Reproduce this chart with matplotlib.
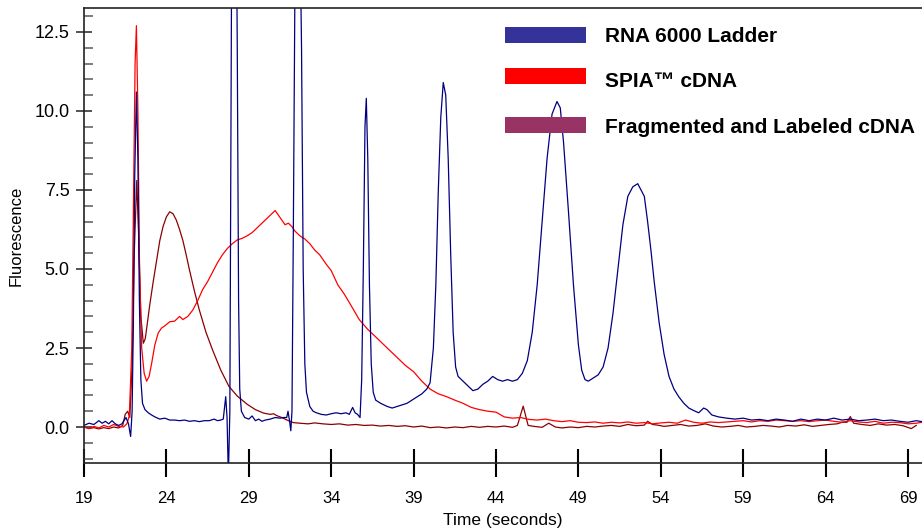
import matplotlib
matplotlib.use('Agg')
import matplotlib.pyplot as plt
from matplotlib.patches import Rectangle
from matplotlib.ticker import MultipleLocator, FormatStrFormatter

plt.rcParams['font.family'] = ['Liberation Sans', 'DejaVu Sans']

ladder_t = [19.0, 19.3, 19.6, 19.9, 20.1, 20.3, 20.5, 20.7, 20.9, 21.1, 21.3, 21.55, 21.7, 21.83, 21.92,
            22.0, 22.08, 22.18, 22.27, 22.36, 22.45, 22.55, 22.7, 22.9, 23.1, 23.3, 23.6, 23.9, 24.2,
            24.5, 24.8, 25.1, 25.4, 25.7, 26.0, 26.3, 26.6, 26.9, 27.1, 27.3, 27.45, 27.6, 27.68, 27.76,
            27.85, 27.92, 28.0, 28.1, 28.2, 28.3, 28.38, 28.45, 28.55, 28.75, 29.0, 29.2, 29.4, 29.6,
            29.8, 30.0, 30.3, 30.6, 30.9, 31.1, 31.3, 31.38, 31.47, 31.55, 31.62, 31.7, 31.8, 31.95,
            32.1, 32.2, 32.3, 32.4, 32.5, 32.7, 32.9, 33.1, 33.4, 33.7, 34.0, 34.3, 34.6, 34.9, 35.1,
            35.3, 35.45, 35.6, 35.75, 35.85, 35.95, 36.05, 36.13, 36.22, 36.32, 36.43, 36.55, 36.7,
            37.0, 37.4, 37.7, 38.0, 38.3, 38.6, 38.9, 39.2, 39.5, 39.8, 40.0, 40.2, 40.35, 40.5, 40.65,
            40.8, 40.95, 41.1, 41.25, 41.4, 41.55, 41.7, 42.0, 42.3, 42.6, 42.9, 43.2, 43.5, 43.8,
            44.1, 44.4, 44.7, 45.0, 45.3, 45.6, 45.9, 46.2, 46.5, 46.8, 47.1, 47.4, 47.7, 47.9, 48.1,
            48.4, 48.7, 49.0, 49.2, 49.4, 49.6, 49.9, 50.2, 50.5, 50.8, 51.1, 51.4, 51.7, 52.0, 52.3,
            52.6, 52.8, 53.0, 53.2, 53.4, 53.6, 53.9, 54.2, 54.5, 54.8, 55.1, 55.4, 55.7, 56.0, 56.3,
            56.6, 56.8, 57.1, 57.5, 58.0, 58.5, 59.0, 59.5, 60.0, 60.5, 61.0, 61.5, 62.0, 62.5, 63.0,
            63.5, 64.0, 64.5, 65.0, 65.5, 66.0, 66.5, 67.0, 67.5, 68.0, 68.5, 69.0, 69.5, 69.85]
ladder_y = [0.05, 0.12, 0.08, 0.2, 0.12, 0.18, 0.1, 0.2, 0.1, 0.05, 0.1, 0.3, 0.1, -0.3, 0.5,
            3.5, 8.0, 10.6, 8.5, 4.0, 1.5, 0.75, 0.55, 0.45, 0.38, 0.32, 0.25, 0.28, 0.22,
            0.22, 0.2, 0.22, 0.18, 0.2, 0.17, 0.2, 0.2, 0.25, 0.2, 0.22, 0.25, 0.96, 0.3, -1.6,
            0.5, 10.0, 20.0, 24.0, 20.0, 12.0, 4.0, 1.2, 0.5, 0.3, 0.25, 0.35, 0.2, 0.25,
            0.18, 0.22, 0.25, 0.3, 0.28, 0.3, 0.3, 0.5, 0.2, -0.12, 0.5, 6.0, 14.0, 20.0,
            16.0, 12.0, 5.0, 2.0, 1.1, 0.65, 0.5, 0.45, 0.4, 0.38, 0.42, 0.45, 0.42, 0.45, 0.4,
            0.62, 0.45, 0.4, 0.3, 1.5, 5.0, 9.5, 10.4, 8.5, 4.5, 2.0, 1.1, 0.85,
            0.75, 0.65, 0.6, 0.65, 0.7, 0.75, 0.85, 0.95, 1.05, 1.2, 1.4, 2.5, 4.5, 7.5, 9.8,
            10.9, 10.5, 8.5, 5.5, 3.0, 1.9, 1.6, 1.45, 1.3, 1.15, 1.2, 1.35, 1.45, 1.6,
            1.5, 1.45, 1.5, 1.45, 1.5, 1.7, 2.1, 3.0, 4.5, 6.5, 8.5, 9.9, 10.3, 10.1, 9.0,
            6.8, 4.5, 2.6, 1.8, 1.5, 1.45, 1.55, 1.65, 1.9, 2.5, 3.6, 5.0, 6.4, 7.3, 7.6,
            7.7, 7.5, 7.3, 6.5, 5.6, 4.6, 3.3, 2.3, 1.6, 1.2, 0.95, 0.75, 0.6, 0.52, 0.45,
            0.6, 0.55, 0.38, 0.32, 0.28, 0.25, 0.28, 0.22, 0.24, 0.2, 0.25, 0.22, 0.18, 0.25, 0.2,
            0.25, 0.22, 0.28, 0.22, 0.25, 0.2, 0.22, 0.25, 0.2, 0.22, 0.18, 0.15, 0.2, 0.17]

spia_t = [19.0, 19.3, 19.6, 19.9, 20.2, 20.5, 20.8, 21.1, 21.4, 21.6, 21.75, 21.9, 22.0, 22.1, 22.18,
          22.27, 22.37, 22.5, 22.65, 22.8, 22.95, 23.1, 23.3, 23.5, 23.7, 23.9, 24.2, 24.5, 24.8,
          25.0, 25.3, 25.6, 25.9, 26.2, 26.5, 26.8, 27.1, 27.4, 27.7, 28.0, 28.3, 28.6, 28.9, 29.2,
          29.5, 29.8, 30.1, 30.4, 30.6, 30.8, 31.0, 31.2, 31.4, 31.6, 31.8, 32.1, 32.4, 32.7, 33.0,
          33.3, 33.7, 34.0, 34.4, 34.8, 35.2, 35.7, 36.2, 36.6, 37.0, 37.5, 38.0, 38.5, 39.0, 39.5,
          40.0, 40.5, 41.0, 41.5, 42.0, 42.5, 43.0, 43.5, 44.0, 44.5, 45.0, 45.5, 46.0, 46.5, 47.0,
          47.5, 48.0, 48.5, 49.0, 49.5, 50.0, 50.5, 51.0, 51.5, 52.0, 52.5, 53.0, 53.5, 54.0, 54.5,
          55.0, 55.5, 56.0, 56.5, 57.0, 57.5, 58.0, 58.5, 59.0, 59.5, 60.0, 60.5, 61.0, 61.5, 62.0,
          62.5, 63.0, 63.5, 64.0, 64.5, 65.0, 65.5, 66.0, 66.5, 67.0, 67.5, 68.0, 68.5, 69.0, 69.5,
          69.85]
spia_y = [0.0, -0.05, 0.02, -0.03, 0.05, 0.0, 0.08, 0.02, 0.0, 0.1, 0.35, 2.5, 7.0, 11.5, 12.7,
          10.0, 5.0, 2.5, 1.7, 1.45, 1.6, 2.0, 2.6, 2.97, 3.13, 3.2, 3.33, 3.35, 3.5,
          3.4, 3.5, 3.7, 4.0, 4.35, 4.6, 4.9, 5.2, 5.45, 5.65, 5.8, 5.92, 5.97, 6.05, 6.15,
          6.3, 6.45, 6.6, 6.75, 6.85, 6.7, 6.55, 6.4, 6.45, 6.35, 6.2, 6.05, 5.95, 5.8, 5.6,
          5.45, 5.15, 4.95, 4.5, 4.2, 3.85, 3.4, 3.1, 2.9, 2.7, 2.45, 2.2, 1.95, 1.75, 1.45,
          1.2, 1.05, 0.96, 0.85, 0.75, 0.62, 0.55, 0.5, 0.47, 0.32, 0.28, 0.3, 0.24, 0.22, 0.25,
          0.2, 0.17, 0.2, 0.15, 0.14, 0.16, 0.12, 0.15, 0.13, 0.16, 0.12, 0.14, 0.1, 0.13, 0.15,
          0.12, 0.22, 0.15, 0.12, 0.16, 0.14, 0.16, 0.18, 0.2, 0.16, 0.2, 0.18, 0.22, 0.2, 0.18,
          0.2, 0.17, 0.2, 0.22, 0.18, 0.15, 0.2, 0.16, 0.14, 0.18, 0.12, 0.15, 0.14, 0.1, 0.12,
          0.15]

frag_t = [19.0, 19.3, 19.6, 19.9, 20.2, 20.5, 20.8, 21.1, 21.35, 21.5, 21.65, 21.78, 21.92, 22.05, 22.2,
          22.32, 22.45, 22.6, 22.72, 22.85, 23.0, 23.2, 23.4, 23.6, 23.8, 24.0, 24.2, 24.4, 24.6,
          24.8, 25.0, 25.2, 25.4, 25.7, 26.0, 26.4, 26.8, 27.3, 27.8, 28.3, 28.9, 29.4, 29.9, 30.3,
          30.5, 30.7, 31.0, 31.4, 31.7, 32.1, 32.6, 33.0, 33.5, 34.0, 34.5, 35.0, 35.5, 36.0, 36.5,
          37.0, 37.5, 38.0, 38.5, 39.0, 39.5, 40.0, 40.5, 41.0, 41.5, 42.0, 42.5, 43.0, 43.5, 44.0,
          44.5, 45.0, 45.3, 45.5, 45.65, 45.8, 45.95, 46.3, 46.8, 47.2, 47.6, 48.0, 48.5, 49.0, 49.5,
          50.0, 50.5, 51.0, 51.5, 52.0, 52.5, 53.0, 53.2, 53.5, 53.8, 54.2, 54.7, 55.2, 55.7, 56.2,
          56.7, 57.2, 57.7, 58.2, 58.7, 59.2, 59.7, 60.2, 60.7, 61.2, 61.7, 62.2, 62.7, 63.2, 63.7,
          64.2, 64.7, 65.0, 65.3, 65.5, 65.7, 66.2, 66.7, 67.2, 67.7, 68.2, 68.7, 69.2, 69.5]
frag_y = [0.0, -0.05, -0.02, -0.06, -0.02, -0.05, 0.0, -0.03, 0.05, 0.4, 0.5, 0.3, 2.0, 5.5, 7.8,
          6.0, 3.5, 2.65, 2.8, 3.3, 3.9, 4.6, 5.25, 5.9, 6.35, 6.65, 6.81, 6.75, 6.55,
          6.25, 5.9, 5.45, 4.97, 4.3, 3.7, 3.0, 2.44, 1.8, 1.28, 0.98, 0.72, 0.55, 0.44, 0.4,
          0.42, 0.36, 0.3, 0.2, 0.14, 0.12, 0.1, 0.13, 0.1, 0.08, 0.1, 0.06, 0.08, 0.05, 0.06,
          0.03, 0.05, 0.02, 0.04, 0.0, 0.03, -0.02, 0.0, -0.03, 0.0, -0.02, 0.02, -0.01, 0.02, 0.0,
          0.03, -0.01, 0.05, 0.4, 0.66, 0.35, 0.05, 0.02, -0.01, 0.12, 0.0, -0.03, 0.0, -0.02, 0.02,
          0.0, 0.03, 0.05, 0.02, 0.08, 0.04, 0.06, 0.18, 0.08, 0.06, 0.02, 0.05, 0.08, 0.03, 0.05,
          0.1, 0.03, 0.0, 0.02, 0.05, 0.0, 0.02, 0.05, 0.03, 0.0, 0.05, 0.03, 0.07, 0.02, 0.05,
          0.08, 0.1, 0.15, 0.15, 0.33, 0.12, 0.08, 0.05, 0.1, 0.06, 0.08, 0.04, -0.05, 0.05]

labels = ['RNA 6000 Ladder', 'SPIA\u2122 cDNA', 'Fragmented and Labeled cDNA']
legend_colors = ['#333399', '#ff0000', '#993366']

fig = plt.figure(figsize=(9.22, 5.31), dpi=100)
ax = fig.add_axes([84 / 922, 0.128, 838 / 922, 0.857])

ax.plot(frag_t, frag_y, color='#8b0000', lw=0.9)
ax.plot(spia_t, spia_y, color='#ff0000', lw=0.9)
ax.plot(ladder_t, ladder_y, color='#000080', lw=0.9)

ax.set_xlim(19, 69.85)
ax.set_ylim(-1.14, 13.26)
ax.set_xticks(range(19, 70, 5))
ax.yaxis.set_major_locator(MultipleLocator(2.5))
ax.yaxis.set_minor_locator(MultipleLocator(0.5))
ax.yaxis.set_major_formatter(FormatStrFormatter('%.1f'))

ax.tick_params(axis='x', direction='inout', length=20, width=1.5, labelsize=12, pad=10)
ax.tick_params(axis='y', which='major', direction='inout', length=11, width=1.3,
               color='#444444', labelsize=13, pad=5)
ax.tick_params(axis='y', which='minor', direction='in', length=6.5, width=1.2, color='#666666')

ax.spines['right'].set_visible(False)
for s in ['left', 'bottom', 'top']:
    ax.spines[s].set_linewidth(1.2)
    ax.spines[s].set_color('#222222')

ax.set_xlabel('Time (seconds)', fontsize=12.5, labelpad=5)
ax.set_ylabel('Fluorescence', fontsize=12, labelpad=8)

# Legende von Hand nachgebaut
rect_y = [0.919, 0.842, 0.750]
text_y = [0.932, 0.846, 0.759]
for lab, col, ry, ty in zip(labels, legend_colors, rect_y, text_y):
    fig.patches.append(Rectangle((0.5477, ry), 0.0879, 0.030, transform=fig.transFigure,
                                 facecolor=col, edgecolor='none', figure=fig))
    fig.text(0.656, ty, lab, fontsize=15, fontweight='bold', va='center', ha='left')

fig.savefig('out.png', dpi=100)
